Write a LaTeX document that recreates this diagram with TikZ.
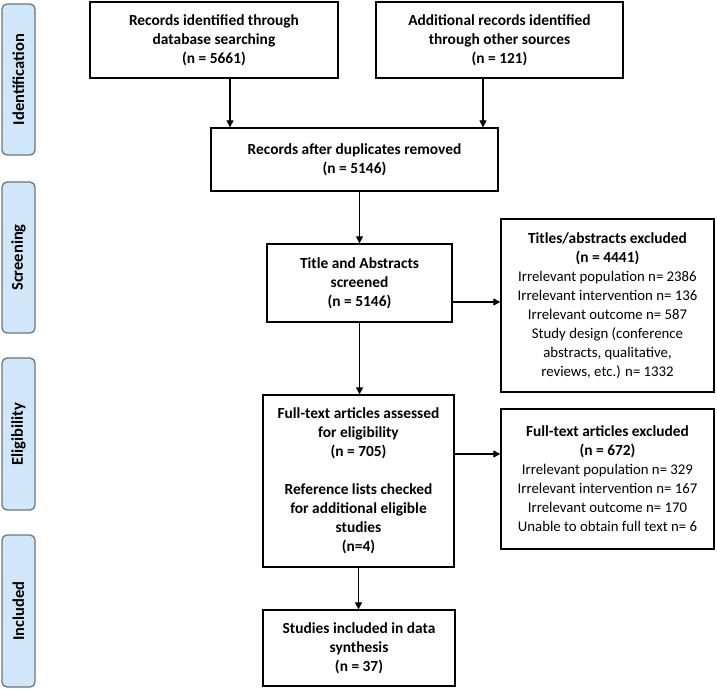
\documentclass[tikz,border=0pt]{standalone}
\usepackage{fontspec}
\setmainfont{Carlito}
\usetikzlibrary{arrows.meta}
\definecolor{lblfill}{HTML}{CFE7F8}
\definecolor{lbldraw}{HTML}{6A7480}
\begin{document}
\begin{tikzpicture}[x=1pt,y=-1pt,
  box/.style={draw=black, line width=1.3pt, fill=white, align=center, inner sep=0pt,
    font=\fontsize{15.4}{19}\selectfont\bfseries},
  exbox/.style={draw=black, line width=1.3pt, fill=white, align=center, inner sep=0pt,
    font=\fontsize{14.8}{19}\selectfont},
  phase/.style={draw=lbldraw, line width=1.3pt, fill=lblfill, rounded corners=5pt,
    minimum width=33pt, inner sep=0pt},
  phasetext/.style={rotate=90, font=\fontsize{16.5}{19}\selectfont\bfseries},
  arr/.style={line width=1.1pt, -{Triangle[length=7pt,width=7pt]}}
]
\useasboundingbox (0,0) rectangle (717,690);

% phase labels
\node[phase, minimum height=151pt] (ph1) at (18.5,79.5) {};
\node[phasetext] (ph1t) at (ph1.center) {Identification};
\node[phase, minimum height=151pt] (ph2) at (18.5,257.5) {};
\node[phasetext] (ph2t) at (ph2.center) {Screening};
\node[phase, minimum height=152pt] (ph3) at (18.5,434) {};
\node[phasetext] (ph3t) at (ph3.center) {Eligibility};
\node[phase, minimum height=152pt] (ph4) at (18.5,611) {};
\node[phasetext] (ph4t) at (ph4.center) {Included};

% main boxes
\node[box, minimum width=248pt, minimum height=76pt] (b1) at (214,40)
  {Records identified through\\database searching\\(n = 5661)};
\node[box, minimum width=247pt, minimum height=76pt] (b2) at (499.5,40)
  {Additional records identified\\through other sources\\(n = 121)};
\node[box, minimum width=287pt, minimum height=63pt] (b3) at (354.5,159.5)
  {Records after duplicates removed\\(n = 5146)};
\node[box, minimum width=185pt, minimum height=78pt] (b4) at (359.5,283)
  {Title and Abstracts\\screened\\(n = 5146)};
\node[exbox, minimum width=213pt, minimum height=173pt] (b5) at (607.5,305.5)
  {\fontsize{15.4}{19}\selectfont\textbf{Titles/abstracts excluded}\\\fontsize{15.4}{19}\selectfont\textbf{(n = 4441)}\\Irrelevant population n= 2386\\Irrelevant intervention n= 136\\Irrelevant outcome n= 587\\Study design (conference\\abstracts, qualitative,\\reviews, etc.) n= 1332};
\node[box, minimum width=191pt, minimum height=172pt] (b6) at (358.5,481)
  {Full-text articles assessed\\for eligibility\\(n = 705)\\[19pt]Reference lists checked\\for additional eligible\\studies\\(n=4)};
\node[exbox, minimum width=213pt, minimum height=140pt] (b7) at (607.5,479)
  {\fontsize{15.4}{19}\selectfont\textbf{Full-text articles excluded}\\\fontsize{15.4}{19}\selectfont\textbf{(n = 672)}\\Irrelevant population n= 329\\Irrelevant intervention n= 167\\Irrelevant outcome n= 170\\Unable to obtain full text n= 6};
\node[box, minimum width=192pt, minimum height=76pt] (b8) at (359,648)
  {Studies included in data\\synthesis\\(n = 37)};

% connectors
\draw[arr] ([xshift=16pt]b1.south) -- ([xshift=16pt]b1.south |- b3.north);
\draw[arr] ([xshift=-16.5pt]b2.south) -- ([xshift=-16.5pt]b2.south |- b3.north);
\draw[arr] (b4.north |- b3.south) -- (b4.north);
\draw[arr] ([yshift=-19pt]b4.east) -- ([yshift=-19pt]b4.east -| b5.west);
\draw[arr] (b4.south) -- (b4.south |- b6.north);
\draw[arr] ([yshift=27pt]b6.east) -- ([yshift=27pt]b6.east -| b7.west);
\draw[arr] (b6.south) -- (b6.south |- b8.north);
\end{tikzpicture}
\end{document}
